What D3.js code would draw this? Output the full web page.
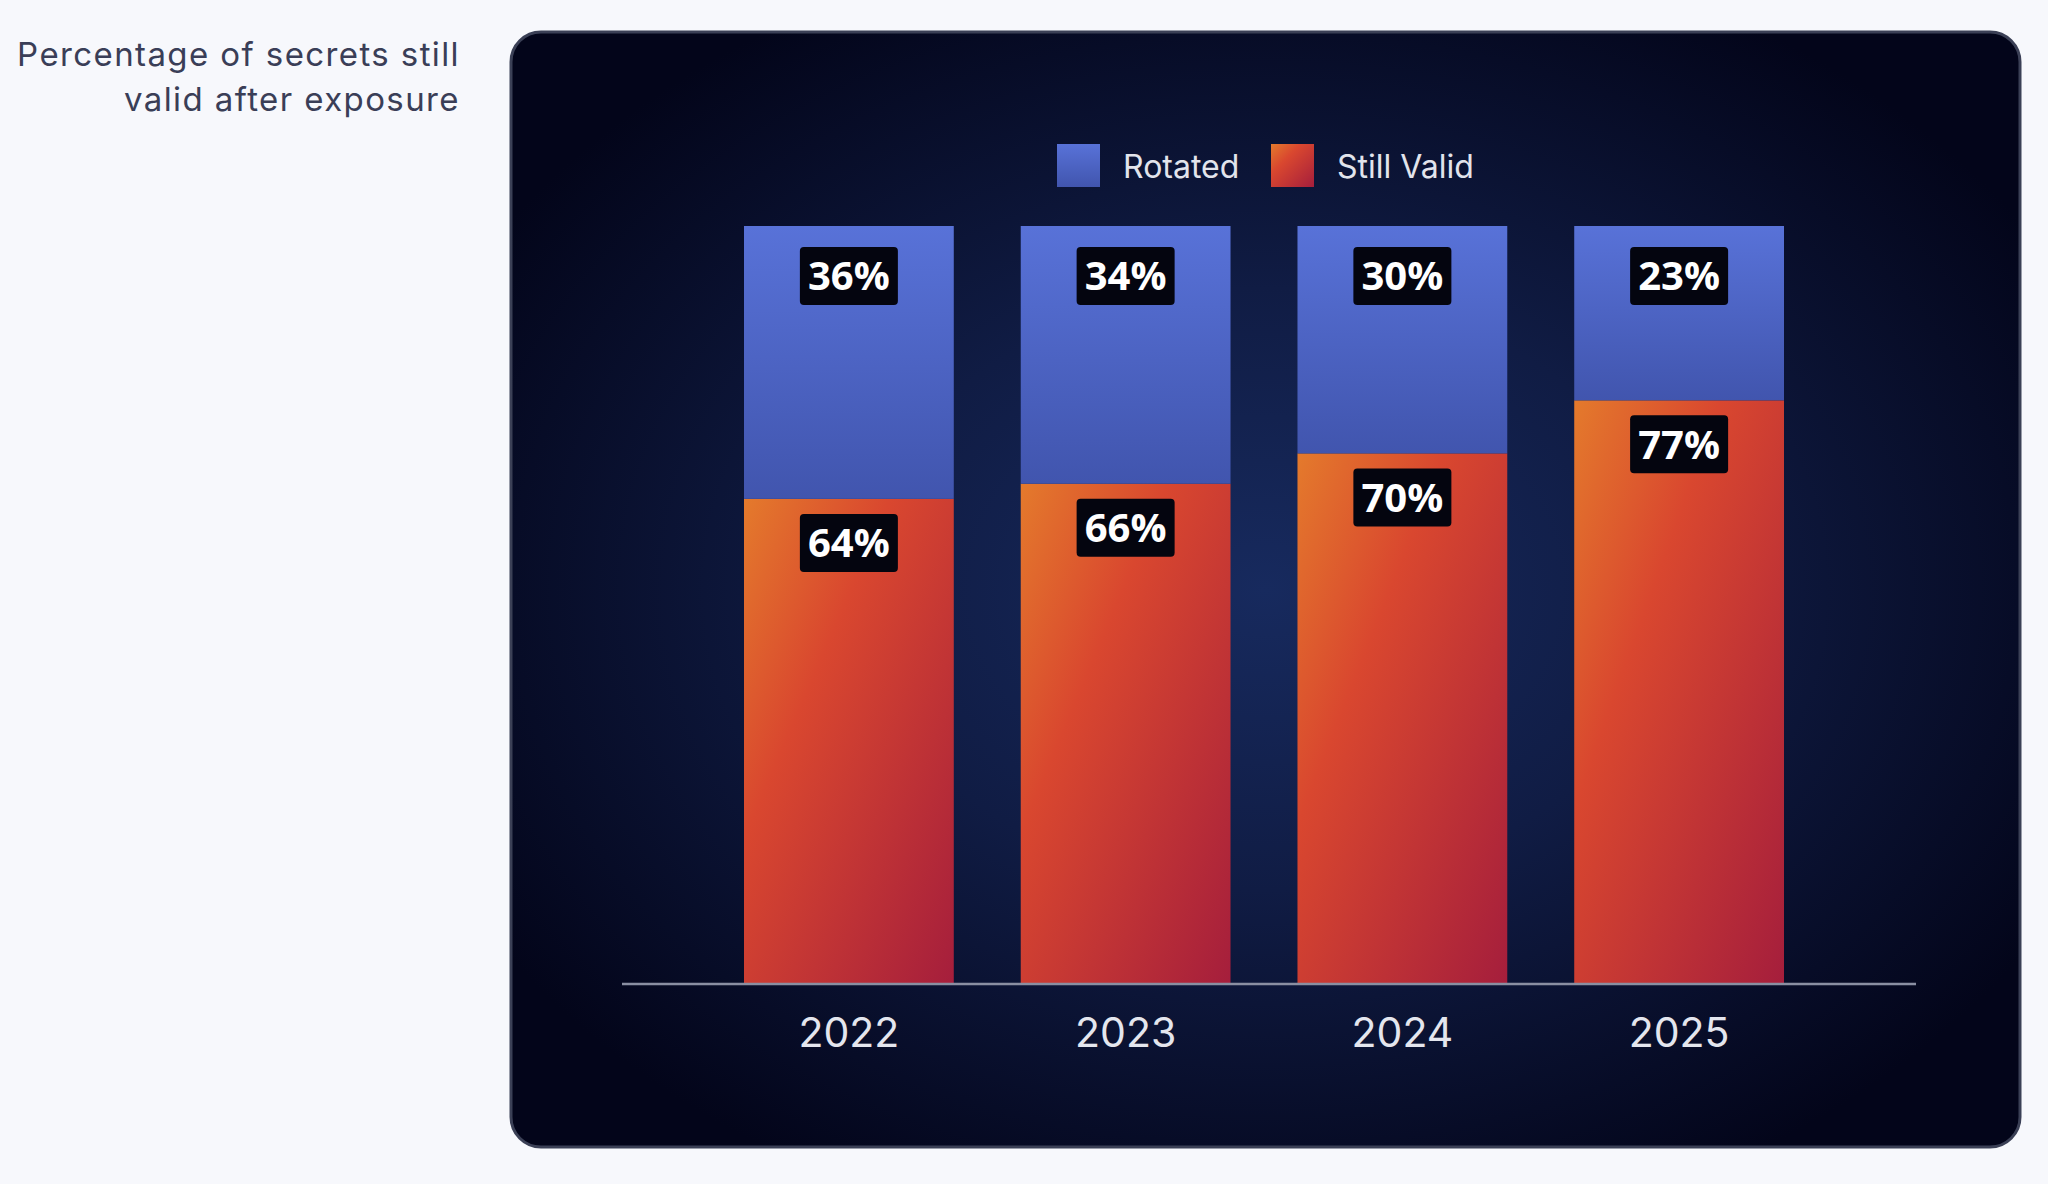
<!DOCTYPE html>
<html>
<head>
<meta charset="utf-8">
<script src="https://cdn.jsdelivr.net/npm/d3@7"></script>
<style>
  html, body { margin: 0; padding: 0; background: #f7f8fc; }
  svg { display: block; }
</style>
</head>
<body>
<svg id="chart" width="2048" height="1184"></svg>
<script>
// data
var years = ["2022", "2023", "2024", "2025"];
var rotated = [36, 34, 30, 23];
var stillValid = [64, 66, 70, 77];
var seriesNames = ["Rotated", "Still Valid"];
var titleLines = ["Percentage of secrets still", "valid after exposure"];

var svg = d3.select("#chart");
var defs = svg.append("defs");

// panel background glow
var rg = defs.append("radialGradient").attr("id", "panelGlow")
  .attr("cx", "0.5").attr("cy", "0.5").attr("r", "0.6");
rg.append("stop").attr("offset", "0%").attr("stop-color", "#172a5e");
rg.append("stop").attr("offset", "45%").attr("stop-color", "#101c44");
rg.append("stop").attr("offset", "100%").attr("stop-color", "#03051a");

var blueGrad = defs.append("linearGradient").attr("id", "blueGrad")
  .attr("x1", 0).attr("y1", 0).attr("x2", 0).attr("y2", 1);
blueGrad.append("stop").attr("offset", "0%").attr("stop-color", "#5872d8");
blueGrad.append("stop").attr("offset", "100%").attr("stop-color", "#4155ae");

var redGrad = defs.append("linearGradient").attr("id", "redGrad")
  .attr("x1", 0).attr("y1", 0).attr("x2", 1).attr("y2", 1);
redGrad.append("stop").attr("offset", "0%").attr("stop-color", "#e47a2c");
redGrad.append("stop").attr("offset", "35%").attr("stop-color", "#d9472f");
redGrad.append("stop").attr("offset", "100%").attr("stop-color", "#a51e3c");

// title
svg.append("g").selectAll("text")
  .data(titleLines)
  .enter().append("text")
  .attr("x", 460)
  .attr("y", (d, i) => 66 + i * 45)
  .attr("text-anchor", "end")
  .attr("font-family", "Inter, 'Noto Sans', sans-serif")
  .attr("font-size", 33)
  .attr("letter-spacing", 1.4)
  .attr("fill", "#3a3e57")
  .text(d => d);

// panel
svg.append("rect")
  .attr("x", 511).attr("y", 32)
  .attr("width", 1509).attr("height", 1115)
  .attr("rx", 30)
  .attr("fill", "url(#panelGlow)")
  .attr("stroke", "#3b4056")
  .attr("stroke-width", 3);

var x = d3.scaleBand().domain(years).range([744, 1784]).paddingInner(0.242).paddingOuter(0);
var y = d3.scaleLinear().domain([0, 100]).range([984, 226]);

var rows = years.map((yr, i) => ({ year: yr, rotated: rotated[i], valid: stillValid[i] }));

// still valid (bottom)
svg.append("g").selectAll("rect")
  .data(rows).enter().append("rect")
  .attr("x", d => x(d.year))
  .attr("y", d => y(d.valid))
  .attr("width", x.bandwidth())
  .attr("height", d => y(0) - y(d.valid))
  .attr("fill", "url(#redGrad)");

// rotated (top)
svg.append("g").selectAll("rect")
  .data(rows).enter().append("rect")
  .attr("x", d => x(d.year))
  .attr("y", d => y(d.valid + d.rotated))
  .attr("width", x.bandwidth())
  .attr("height", d => y(d.valid) - y(d.valid + d.rotated))
  .attr("fill", "url(#blueGrad)");

// value labels
function addLabels(cls, topFn, valFn, off) {
  var g = svg.append("g").selectAll("g." + cls)
    .data(rows).enter().append("g")
    .attr("class", cls)
    .attr("transform", d => "translate(" + (x(d.year) + x.bandwidth() / 2) + "," + (topFn(d) + off) + ")");
  g.append("rect")
    .attr("x", -49).attr("y", -29)
    .attr("width", 98).attr("height", 58)
    .attr("rx", 4)
    .attr("fill", "#04050f");
  g.append("text")
    .attr("text-anchor", "middle")
    .attr("dy", "0.36em")
    .attr("font-family", "'Open Sans', 'DejaVu Sans', sans-serif")
    .attr("font-weight", 700)
    .attr("font-size", 40)
    .attr("fill", "#ffffff")
    .text(d => valFn(d) + "%");
}
addLabels("lab-rot", d => y(d.valid + d.rotated), d => d.rotated, 50);
addLabels("lab-val", d => y(d.valid), d => d.valid, 44);

// baseline
svg.append("line")
  .attr("x1", 622).attr("x2", 1916)
  .attr("y1", y(0)).attr("y2", y(0))
  .attr("stroke", "#8a8fa2")
  .attr("stroke-width", 2.5);

// year axis
var xAxis = svg.append("g")
  .attr("transform", "translate(0," + y(0) + ")")
  .call(d3.axisBottom(x).tickSize(0).tickPadding(34));
xAxis.select(".domain").remove();
xAxis.selectAll("text")
  .attr("font-family", "Inter, 'Noto Sans', sans-serif")
  .attr("font-size", 41)
  .attr("fill", "#e4e6ee");

// legend
var legendX = [1057, 1271];
var legendFills = ["url(#blueGrad)", "url(#redGrad)"];
var leg = svg.append("g").selectAll("g")
  .data(seriesNames).enter().append("g")
  .attr("transform", (d, i) => "translate(" + legendX[i] + ",144)");
leg.append("rect")
  .attr("width", 43).attr("height", 43)
  .attr("fill", (d, i) => legendFills[i]);
leg.append("text")
  .attr("x", 66).attr("y", 34)
  .attr("font-family", "Inter, 'Noto Sans', sans-serif")
  .attr("font-size", 32)
  .attr("fill", "#e2e4ec")
  .text(d => d);
</script>
</body>
</html>
